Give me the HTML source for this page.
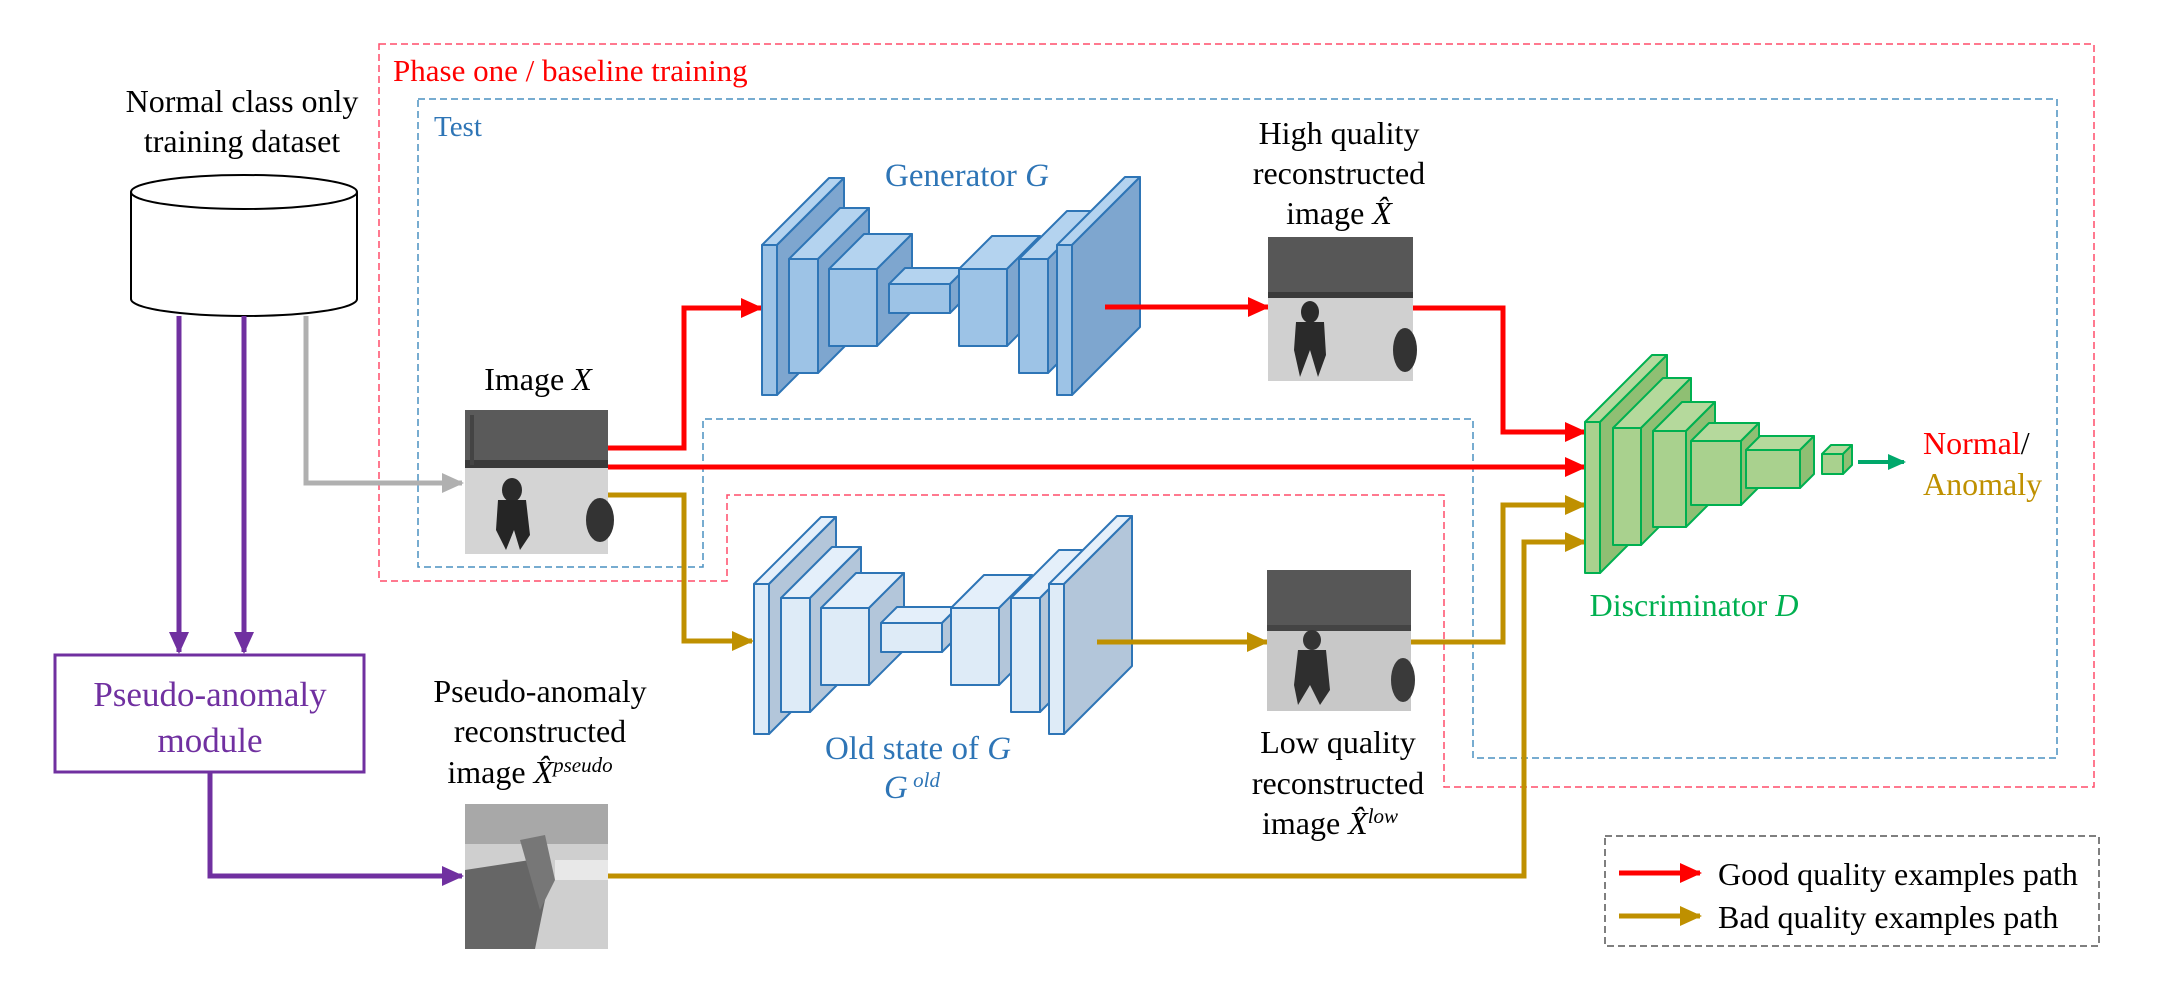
<!DOCTYPE html>
<html><head><meta charset="utf-8"><style>
html,body{margin:0;padding:0;background:#fff;}
svg{display:block;}
text{font-family:"Liberation Serif",serif;}
</style></head><body>
<svg width="2162" height="984" viewBox="0 0 2162 984" xmlns="http://www.w3.org/2000/svg">
<defs>
<marker id="mr" markerUnits="userSpaceOnUse" markerWidth="22" markerHeight="20" refX="20" refY="10" orient="auto"><path d="M0,0 L22,10 L0,20 Z" fill="#ff0000"/></marker>
<marker id="mg" markerUnits="userSpaceOnUse" markerWidth="22" markerHeight="20" refX="20" refY="10" orient="auto"><path d="M0,0 L22,10 L0,20 Z" fill="#bf9000"/></marker>
<marker id="mp" markerUnits="userSpaceOnUse" markerWidth="22" markerHeight="20" refX="20" refY="10" orient="auto"><path d="M0,0 L22,10 L0,20 Z" fill="#7030a0"/></marker>
<marker id="ma" markerUnits="userSpaceOnUse" markerWidth="22" markerHeight="20" refX="20" refY="10" orient="auto"><path d="M0,0 L22,10 L0,20 Z" fill="#b0b0b0"/></marker>
<marker id="mgr" markerUnits="userSpaceOnUse" markerWidth="18" markerHeight="16" refX="16" refY="8" orient="auto"><path d="M0,0 L18,8 L0,16 Z" fill="#00a86b"/></marker>
</defs>

<polygon points="379,44 2094,44 2094,787 1444,787 1444,495 727,495 727,581 379,581" fill="none" stroke="#ff4d6a" stroke-width="1.5" stroke-dasharray="7,4"/>
<polygon points="418,99 2057,99 2057,758 1473,758 1473,419 703,419 703,567 418,567" fill="none" stroke="#4a90c0" stroke-width="1.5" stroke-dasharray="7,4"/>
<text x="393" y="81" font-size="31" fill="#ff0000">Phase one / baseline training</text>
<text x="434" y="136" font-size="29" fill="#2e75b6">Test</text>

<text x="242" y="112" font-size="32" text-anchor="middle">Normal class only</text>
<text x="242" y="152" font-size="32" text-anchor="middle">training dataset</text>
<path d="M131,192 L131,299 A113,17 0 0 0 357,299 L357,192" fill="#fff" stroke="#000" stroke-width="2"/>
<ellipse cx="244" cy="192" rx="113" ry="17" fill="#fff" stroke="#000" stroke-width="2"/>

<line x1="179" y1="316" x2="179" y2="652" stroke="#7030a0" stroke-width="5" marker-end="url(#mp)"/>
<line x1="244" y1="316" x2="244" y2="652" stroke="#7030a0" stroke-width="5" marker-end="url(#mp)"/>
<polyline points="306,316 306,483 462,483" fill="none" stroke="#b0b0b0" stroke-width="5" marker-end="url(#ma)"/>
<rect x="55" y="655" width="309" height="117" fill="#fff" stroke="#7030a0" stroke-width="3"/>
<text x="210" y="706" font-size="35" fill="#7030a0" text-anchor="middle">Pseudo-anomaly</text>
<text x="210" y="752" font-size="35" fill="#7030a0" text-anchor="middle">module</text>
<polyline points="210,772 210,876 462,876" fill="none" stroke="#7030a0" stroke-width="5" marker-end="url(#mp)"/>

<text x="538" y="390" font-size="32" text-anchor="middle">Image <tspan font-style="italic">X</tspan></text>
<g>
<rect x="465" y="410" width="143" height="144" fill="#d4d4d4"/>
<rect x="465" y="410" width="143" height="50" fill="#5a5a5a"/>
<rect x="465" y="460" width="143" height="8" fill="#3a3a3a"/>
<ellipse cx="512" cy="490" rx="10" ry="12" fill="#2a2a2a"/>
<path d="M498,500 L526,500 L530,535 L520,550 L514,530 L506,550 L496,530 Z" fill="#252525"/>
<ellipse cx="600" cy="520" rx="14" ry="22" fill="#333"/>
<rect x="470" y="415" width="4" height="50" fill="#444"/>
</g>

<text x="540" y="702" font-size="32" text-anchor="middle">Pseudo-anomaly</text>
<text x="540" y="742" font-size="32" text-anchor="middle">reconstructed</text>
<text x="530" y="783" font-size="32" text-anchor="middle">image <tspan font-style="italic">X̂</tspan><tspan font-style="italic" font-size="21" dy="-11">pseudo</tspan></text>
<g>
<rect x="465" y="804" width="143" height="145" fill="#cfcfcf"/>
<rect x="465" y="804" width="143" height="40" fill="#a8a8a8"/>
<path d="M465,870 L530,860 L545,900 L535,949 L465,949 Z" fill="#5a5a5a" opacity="0.9"/>
<path d="M520,840 L545,835 L555,880 L540,910 Z" fill="#777"/>
<rect x="555" y="860" width="53" height="20" fill="#e8e8e8"/>
</g>

<polyline points="608,448 684,448 684,308 761,308" fill="none" stroke="#ff0000" stroke-width="5" marker-end="url(#mr)"/>
<line x1="608" y1="467" x2="1585" y2="467" stroke="#ff0000" stroke-width="5" marker-end="url(#mr)"/>
<polyline points="608,495 684,495 684,641 752,641" fill="none" stroke="#bf9000" stroke-width="5" marker-end="url(#mg)"/>
<line x1="1105" y1="307" x2="1268" y2="307" stroke="#ff0000" stroke-width="5" marker-end="url(#mr)"/>
<polyline points="1413,308 1503,308 1503,432 1585,432" fill="none" stroke="#ff0000" stroke-width="5" marker-end="url(#mr)"/>
<line x1="1097" y1="642" x2="1267" y2="642" stroke="#bf9000" stroke-width="5" marker-end="url(#mg)"/>
<polyline points="1411,642 1503,642 1503,505 1585,505" fill="none" stroke="#bf9000" stroke-width="5" marker-end="url(#mg)"/>
<polyline points="608,876 1524,876 1524,542 1585,542" fill="none" stroke="#bf9000" stroke-width="5" marker-end="url(#mg)"/>

<g stroke="#2e75b6" stroke-width="2" stroke-linejoin="round">
<g>
<polygon points="762,245 829,178 844,178 777,245" fill="#b4d3ef"/><polygon points="777,245 844,178 844,328 777,395" fill="#7ea6cf"/><rect x="762" y="245" width="15" height="150" fill="#9dc3e6"/>
<polygon points="789,259 840,208 869,208 818,259" fill="#b4d3ef"/><polygon points="818,259 869,208 869,322 818,373" fill="#7ea6cf"/><rect x="789" y="259" width="29" height="114" fill="#9dc3e6"/>
<polygon points="829,269 864,234 912,234 877,269" fill="#b4d3ef"/><polygon points="877,269 912,234 912,311 877,346" fill="#7ea6cf"/><rect x="829" y="269" width="48" height="77" fill="#9dc3e6"/>
<polygon points="889,284 905,268 966,268 950,284" fill="#b4d3ef"/><polygon points="950,284 966,268 966,297 950,313" fill="#7ea6cf"/><rect x="889" y="284" width="61" height="29" fill="#9dc3e6"/>
<polygon points="959,269 992,236 1040,236 1007,269" fill="#b4d3ef"/><polygon points="1007,269 1040,236 1040,313 1007,346" fill="#7ea6cf"/><rect x="959" y="269" width="48" height="77" fill="#9dc3e6"/>
<polygon points="1019,259 1067,211 1096,211 1048,259" fill="#b4d3ef"/><polygon points="1048,259 1096,211 1096,325 1048,373" fill="#7ea6cf"/><rect x="1019" y="259" width="29" height="114" fill="#9dc3e6"/>
<polygon points="1057,245 1125,177 1140,177 1072,245" fill="#b4d3ef"/><polygon points="1072,245 1140,177 1140,327 1072,395" fill="#7ea6cf"/><rect x="1057" y="245" width="15" height="150" fill="#9dc3e6"/>
</g>
<g transform="translate(-8,339)">
<polygon points="762,245 829,178 844,178 777,245" fill="#e4effa"/><polygon points="777,245 844,178 844,328 777,395" fill="#b3c6da"/><rect x="762" y="245" width="15" height="150" fill="#deebf7"/>
<polygon points="789,259 840,208 869,208 818,259" fill="#e4effa"/><polygon points="818,259 869,208 869,322 818,373" fill="#b3c6da"/><rect x="789" y="259" width="29" height="114" fill="#deebf7"/>
<polygon points="829,269 864,234 912,234 877,269" fill="#e4effa"/><polygon points="877,269 912,234 912,311 877,346" fill="#b3c6da"/><rect x="829" y="269" width="48" height="77" fill="#deebf7"/>
<polygon points="889,284 905,268 966,268 950,284" fill="#e4effa"/><polygon points="950,284 966,268 966,297 950,313" fill="#b3c6da"/><rect x="889" y="284" width="61" height="29" fill="#deebf7"/>
<polygon points="959,269 992,236 1040,236 1007,269" fill="#e4effa"/><polygon points="1007,269 1040,236 1040,313 1007,346" fill="#b3c6da"/><rect x="959" y="269" width="48" height="77" fill="#deebf7"/>
<polygon points="1019,259 1067,211 1096,211 1048,259" fill="#e4effa"/><polygon points="1048,259 1096,211 1096,325 1048,373" fill="#b3c6da"/><rect x="1019" y="259" width="29" height="114" fill="#deebf7"/>
<polygon points="1057,245 1125,177 1140,177 1072,245" fill="#e4effa"/><polygon points="1072,245 1140,177 1140,327 1072,395" fill="#b3c6da"/><rect x="1057" y="245" width="15" height="150" fill="#deebf7"/>
</g>
</g>
<line x1="1105" y1="307" x2="1150" y2="307" stroke="#ff0000" stroke-width="5"/>
<line x1="1097" y1="642" x2="1140" y2="642" stroke="#bf9000" stroke-width="5"/>

<text x="967" y="186" font-size="33" fill="#2e75b6" text-anchor="middle">Generator <tspan font-style="italic">G</tspan></text>
<text x="918" y="759" font-size="33" fill="#2e75b6" text-anchor="middle">Old state of <tspan font-style="italic">G</tspan></text>
<text x="912" y="798" font-size="33" fill="#2e75b6" text-anchor="middle"><tspan font-style="italic">G</tspan><tspan font-style="italic" font-size="21" dy="-11"> old</tspan></text>

<text x="1339" y="144" font-size="32" text-anchor="middle">High quality</text>
<text x="1339" y="184" font-size="32" text-anchor="middle">reconstructed</text>
<text x="1339" y="224" font-size="32" text-anchor="middle">image <tspan font-style="italic">X̂</tspan></text>
<g>
<rect x="1268" y="237" width="145" height="144" fill="#d0d0d0"/>
<rect x="1268" y="237" width="145" height="55" fill="#575757"/>
<rect x="1268" y="292" width="145" height="6" fill="#3a3a3a"/>
<ellipse cx="1310" cy="312" rx="9" ry="11" fill="#2a2a2a"/>
<path d="M1296,322 L1324,322 L1326,355 L1318,377 L1310,350 L1300,377 L1294,350 Z" fill="#2a2a2a"/>
<ellipse cx="1405" cy="350" rx="12" ry="22" fill="#333"/>
</g>

<g>
<rect x="1267" y="570" width="144" height="141" fill="#c8c8c8"/>
<rect x="1267" y="570" width="144" height="55" fill="#575757"/>
<rect x="1267" y="625" width="144" height="6" fill="#444"/>
<ellipse cx="1312" cy="640" rx="9" ry="10" fill="#333"/>
<path d="M1298,650 L1326,650 L1330,690 L1320,705 L1310,685 L1298,705 L1294,685 Z" fill="#2f2f2f"/>
<ellipse cx="1403" cy="680" rx="12" ry="22" fill="#3a3a3a"/>
</g>
<text x="1338" y="753" font-size="32" text-anchor="middle">Low quality</text>
<text x="1338" y="794" font-size="32" text-anchor="middle">reconstructed</text>
<text x="1330" y="834" font-size="32" text-anchor="middle">image <tspan font-style="italic">X̂</tspan><tspan font-style="italic" font-size="21" dy="-11">low</tspan></text>

<g stroke="#00b050" stroke-width="2" stroke-linejoin="round">
<polygon points="1585,422 1652,355 1667,355 1600,422" fill="#b5d99c"/><polygon points="1600,422 1667,355 1667,506 1600,573" fill="#8fbf73"/><rect x="1585" y="422" width="15" height="151" fill="#a9d18e"/>
<polygon points="1613,428 1663,378 1691,378 1641,428" fill="#b5d99c"/><polygon points="1641,428 1691,378 1691,495 1641,545" fill="#8fbf73"/><rect x="1613" y="428" width="28" height="117" fill="#a9d18e"/>
<polygon points="1653,431 1682,402 1715,402 1686,431" fill="#b5d99c"/><polygon points="1686,431 1715,402 1715,498 1686,527" fill="#8fbf73"/><rect x="1653" y="431" width="33" height="96" fill="#a9d18e"/>
<polygon points="1691,441 1709,423 1759,423 1741,441" fill="#b5d99c"/><polygon points="1741,441 1759,423 1759,487 1741,505" fill="#8fbf73"/><rect x="1691" y="441" width="50" height="64" fill="#a9d18e"/>
<polygon points="1746,450 1760,436 1814,436 1800,450" fill="#b5d99c"/><polygon points="1800,450 1814,436 1814,474 1800,488" fill="#8fbf73"/><rect x="1746" y="450" width="54" height="38" fill="#a9d18e"/>
<polygon points="1822,454 1831,445 1852,445 1843,454" fill="#b5d99c"/><polygon points="1843,454 1852,445 1852,465 1843,474" fill="#8fbf73"/><rect x="1822" y="454" width="21" height="20" fill="#a9d18e"/>
</g>
<line x1="1858" y1="462" x2="1904" y2="462" stroke="#00a86b" stroke-width="4" marker-end="url(#mgr)"/>
<text x="1694" y="616" font-size="32" fill="#00b050" text-anchor="middle">Discriminator <tspan font-style="italic">D</tspan></text>
<text x="1923" y="454" font-size="32"><tspan fill="#ff0000">Normal</tspan><tspan fill="#000">/</tspan></text>
<text x="1923" y="495" font-size="32" fill="#bf9000">Anomaly</text>

<rect x="1605" y="836" width="494" height="110" fill="none" stroke="#555" stroke-width="1.5" stroke-dasharray="7,4"/>
<line x1="1619" y1="873" x2="1700" y2="873" stroke="#ff0000" stroke-width="5" marker-end="url(#mr)"/>
<line x1="1619" y1="916" x2="1700" y2="916" stroke="#bf9000" stroke-width="5" marker-end="url(#mg)"/>
<text x="1718" y="885" font-size="32">Good quality examples path</text>
<text x="1718" y="928" font-size="32">Bad quality examples path</text>
</svg>
</body></html>
